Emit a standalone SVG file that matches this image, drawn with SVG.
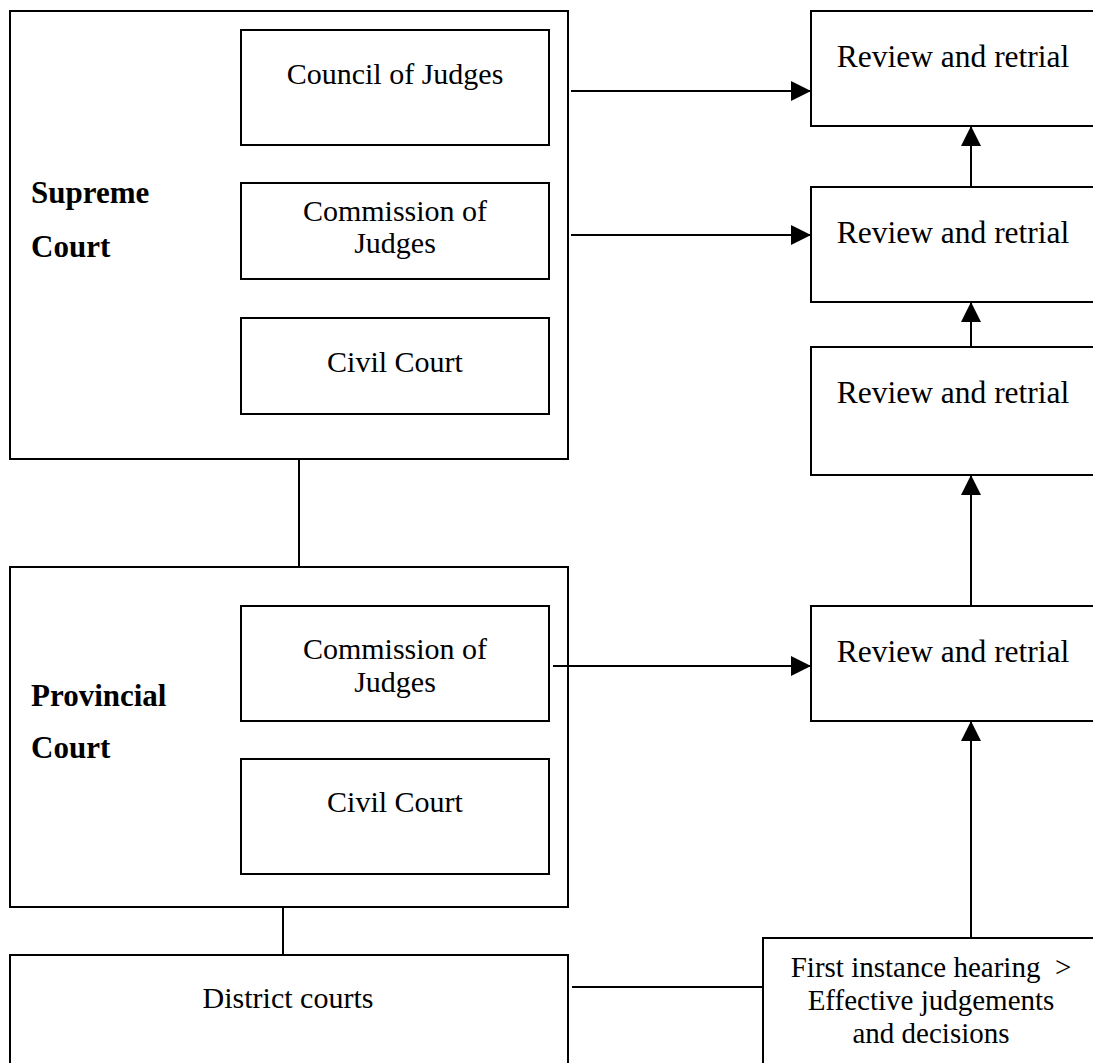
<svg xmlns="http://www.w3.org/2000/svg" width="1093" height="1063" viewBox="0 0 1093 1063">
<style>
.box{fill:#fff;stroke:#000;stroke-width:2}
.t{font-family:"Liberation Serif","Times New Roman",serif;font-size:30px;fill:#000;text-anchor:middle}
.r{font-family:"Liberation Serif","Times New Roman",serif;font-size:31.5px;fill:#000;text-anchor:middle}
.b{font-family:"Liberation Serif","Times New Roman",serif;font-size:31px;font-weight:bold;fill:#000}
.s{font-family:"Liberation Serif","Times New Roman",serif;font-size:29px;fill:#000;text-anchor:middle}
.c{stroke:#000;stroke-width:2;fill:none}
</style>
<defs>
<marker id="ah" viewBox="0 0 20 20" markerWidth="20" markerHeight="20" refX="20" refY="10" orient="auto" markerUnits="userSpaceOnUse">
<path d="M0,0 L20,10 L0,20 z" fill="#000"/>
</marker>
</defs>
<rect width="1093" height="1063" fill="#fff"/>

<g id="supreme-court">
<rect class="box" x="10" y="11" width="558" height="448"/>
<text class="b" x="31" y="203">Supreme</text>
<text class="b" x="31" y="257">Court</text>
</g>
<g id="sc-council">
<rect class="box" x="241" y="30" width="308" height="115"/>
<text class="t" x="395" y="84">Council of Judges</text>
</g>
<g id="sc-commission">
<rect class="box" x="241" y="183" width="308" height="96"/>
<text class="t" x="395" y="221">Commission of</text>
<text class="t" x="395" y="253">Judges</text>
</g>
<g id="sc-civil">
<rect class="box" x="241" y="318" width="308" height="96"/>
<text class="t" x="395" y="372">Civil Court</text>
</g>

<g id="provincial-court">
<rect class="box" x="10" y="567" width="558" height="340"/>
<text class="b" x="31" y="706">Provincial</text>
<text class="b" x="31" y="758">Court</text>
</g>
<g id="pc-commission">
<rect class="box" x="241" y="606" width="308" height="115"/>
<text class="t" x="395" y="659">Commission of</text>
<text class="t" x="395" y="692">Judges</text>
</g>
<g id="pc-civil">
<rect class="box" x="241" y="759" width="308" height="115"/>
<text class="t" x="395" y="812">Civil Court</text>
</g>

<g id="district-courts">
<rect class="box" x="10" y="955" width="558" height="130"/>
<text class="t" x="288" y="1008">District courts</text>
</g>

<g id="first-instance">
<rect class="box" x="763" y="938" width="340" height="150"/>
<text class="s" x="931" y="977" xml:space="preserve">First instance hearing  &gt;</text>
<text class="s" x="931" y="1010">Effective judgements</text>
<text class="s" x="931" y="1043">and decisions</text>
</g>

<g id="review-1">
<rect class="box" x="811" y="11" width="290" height="115"/>
<text class="r" x="953" y="67">Review and retrial</text>
</g>
<g id="review-2">
<rect class="box" x="811" y="187" width="290" height="115"/>
<text class="r" x="953" y="243">Review and retrial</text>
</g>
<g id="review-3">
<rect class="box" x="811" y="347" width="290" height="128"/>
<text class="r" x="953" y="403">Review and retrial</text>
</g>
<g id="review-4">
<rect class="box" x="811" y="606" width="290" height="115"/>
<text class="r" x="953" y="662">Review and retrial</text>
</g>

<g id="connectors">
<line class="c" x1="571" y1="91" x2="811" y2="91" marker-end="url(#ah)"/>
<line class="c" x1="571" y1="235" x2="811" y2="235" marker-end="url(#ah)"/>
<line class="c" x1="553" y1="666" x2="811" y2="666" marker-end="url(#ah)"/>
<line class="c" x1="572" y1="987" x2="763" y2="987"/>
<line class="c" x1="971" y1="938" x2="971" y2="721" marker-end="url(#ah)"/>
<line class="c" x1="971" y1="606" x2="971" y2="475" marker-end="url(#ah)"/>
<line class="c" x1="971" y1="347" x2="971" y2="302" marker-end="url(#ah)"/>
<line class="c" x1="971" y1="187" x2="971" y2="126" marker-end="url(#ah)"/>
<line class="c" x1="299" y1="459" x2="299" y2="567"/>
<line class="c" x1="283" y1="907" x2="283" y2="955"/>
</g>
</svg>
